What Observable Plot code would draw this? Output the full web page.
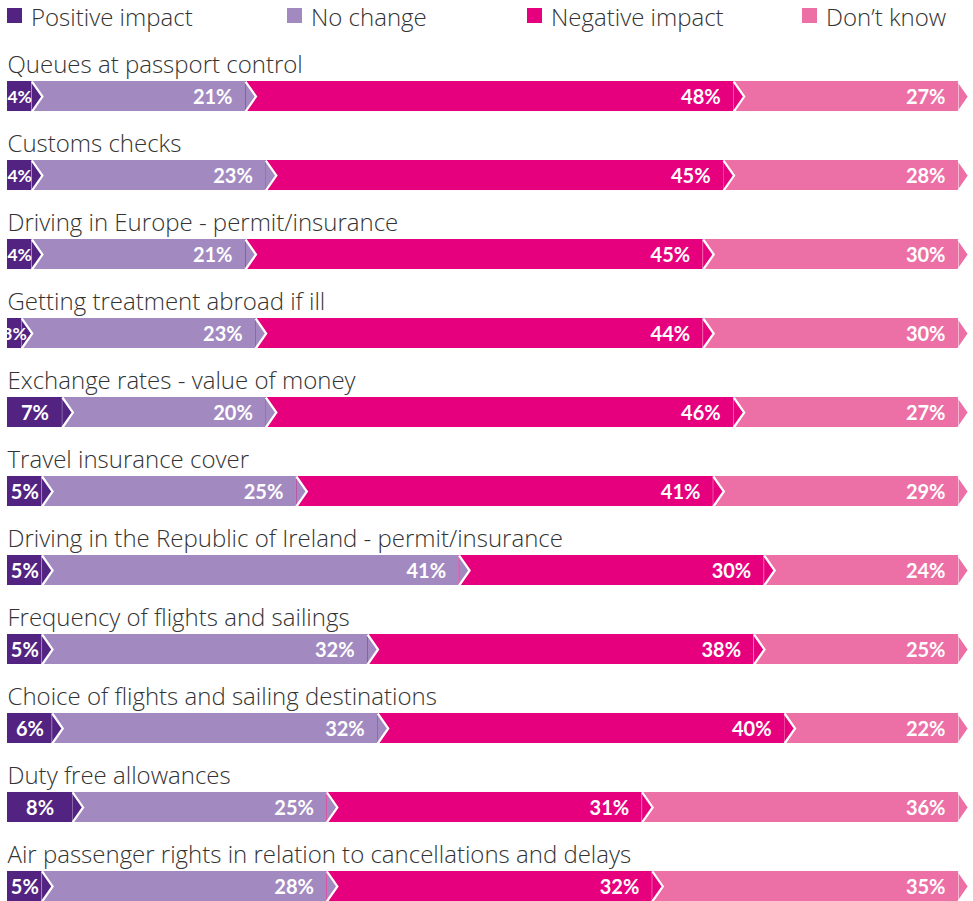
<!DOCTYPE html>
<html>
<head>
<meta charset="utf-8">
<script src="https://cdn.jsdelivr.net/npm/d3@7"></script>
<script src="https://cdn.jsdelivr.net/npm/@observablehq/plot@0.6"></script>
<style>
  html, body { margin: 0; padding: 0; background: #fff; }
  #wrap { position: relative; width: 973px; height: 901px; font-family: "Open Sans", Lato, sans-serif; }
  #legend { position: absolute; left: 0; top: 0; width: 973px; height: 34px; }
  .item { position: absolute; top: 0px; display: flex; align-items: center; font-size: 24px; font-weight: 300; color: #333; white-space: nowrap; line-height: 33px; }
  .sw { width: 15px; height: 15px; margin-right: 9px; display: inline-block; position: relative; top: -1px; }
  #chart { position: absolute; left: 0; top: 0; }
</style>
</head>
<body>
<div id="wrap">
  <div id="chart"></div>
  <div id="legend"></div>
</div>
<script>
const categories = [
  "Queues at passport control",
  "Customs checks",
  "Driving in Europe - permit/insurance",
  "Getting treatment abroad if ill",
  "Exchange rates - value of money",
  "Travel insurance cover",
  "Driving in the Republic of Ireland - permit/insurance",
  "Frequency of flights and sailings",
  "Choice of flights and sailing destinations",
  "Duty free allowances",
  "Air passenger rights in relation to cancellations and delays"
];
const seriesNames = ["Positive impact", "No change", "Negative impact", "Don\u2019t know"];
const seriesColors = ["#532381", "#a28ac1", "#e6007e", "#ec6fa6"];
const positive = [4, 4, 4, 3, 7, 5, 5, 5, 6, 8, 5];
const noChange = [21, 23, 21, 23, 20, 25, 41, 32, 32, 25, 28];
const negative = [48, 45, 45, 44, 46, 41, 30, 38, 40, 31, 32];
const dontKnow = [27, 28, 30, 30, 27, 29, 24, 25, 22, 36, 35];

const series = [positive, noChange, negative, dontKnow];
const rows = [];
categories.forEach((cat, r) => {
  let cum = 0;
  series.forEach((vals, s) => {
    const v = vals[r];
    rows.push({cat, s, name: seriesNames[s], v, x0: cum, x1: cum + v});
    cum += v;
  });
});

const xDomain = [1.6, 95.1];

const chevron = {
  draw(ctx) {
    ctx.moveTo(0, -15);
    ctx.lineTo(10.5, 0);
    ctx.lineTo(0, 15);
  }
};

const chart = Plot.plot({
  width: 973,
  height: 901,
  marginTop: 0, marginRight: 0, marginBottom: 0, marginLeft: 0,
  x: {type: "linear", domain: xDomain, range: [7, 958], clamp: true, axis: null},
  y: {type: "band", domain: categories, range: [81, 901], paddingInner: 0.62, paddingOuter: 0, round: false, axis: null},
  color: {domain: seriesNames, range: seriesColors},
  style: {fontFamily: "'Open Sans', Lato, sans-serif", background: "white"},
  marks: [
    Plot.barX(rows, {x1: "x0", x2: "x1", y: "cat", fill: "name"}),
    Plot.dot(rows, {x: "x1", y: "cat", symbol: chevron, fill: "name", stroke: "white", strokeWidth: 2.2, strokeLinejoin: "miter", r: 3}),
    Plot.text(categories, {x: 0, y: d => d, text: d => d, textAnchor: "start", dy: -31, fontSize: 24, fontWeight: 300, fill: "#333"}),
    Plot.text(rows.filter(d => d.s === 0), {
      x: d => (Math.max(d.x0, xDomain[0]) + d.x1) / 2, y: "cat", text: d => d.v + "%",
      textAnchor: "middle", dy: 1, fontSize: d => d.v <= 4 ? 17.5 : 20, fontWeight: "bold", fill: "white",
      fontFamily: "Lato, 'Open Sans', sans-serif"
    }),
    Plot.text(rows.filter(d => d.s > 0), {
      x: "x1", y: "cat", text: d => d.v + "%",
      textAnchor: "end", dx: -13, dy: 1, fontSize: 20, fontWeight: "bold", fill: "white",
      fontFamily: "Lato, 'Open Sans', sans-serif"
    })
  ]
});
document.getElementById("chart").appendChild(chart);

const legendLeft = [7, 287, 527, 802];
const legend = document.getElementById("legend");
seriesNames.forEach((n, i) => {
  const it = document.createElement("div");
  it.className = "item";
  it.style.left = legendLeft[i] + "px";
  const sw = document.createElement("span");
  sw.className = "sw";
  sw.style.background = seriesColors[i];
  it.appendChild(sw);
  it.appendChild(document.createTextNode(n));
  legend.appendChild(it);
});
</script>
</body>
</html>
